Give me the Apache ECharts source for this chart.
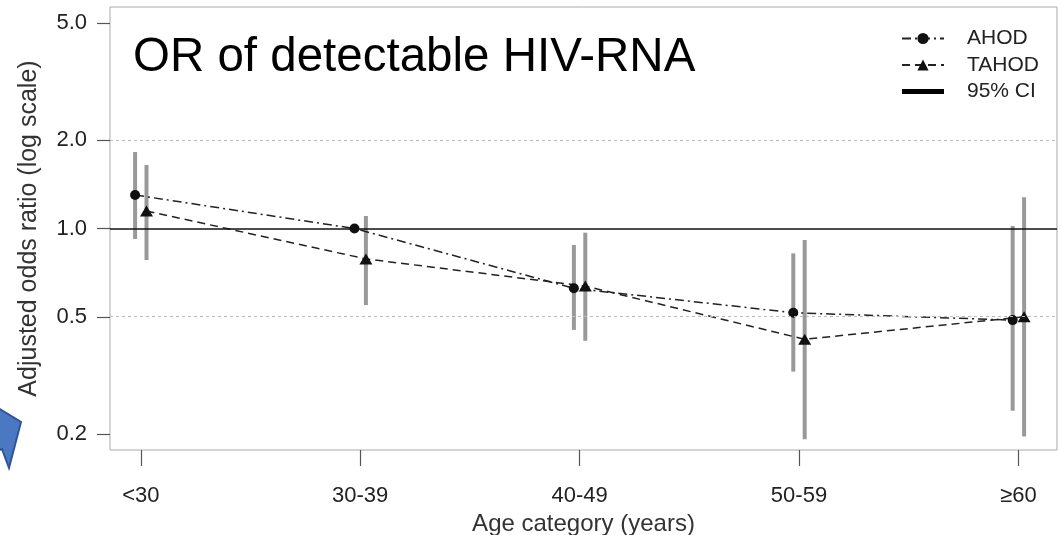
<!DOCTYPE html>
<html>
<head>
<meta charset="utf-8">
<script src="https://cdn.jsdelivr.net/npm/echarts@6/dist/echarts.min.js"></script>
<style>
  html, body { margin: 0; padding: 0; background: #fff; }
  #chart { width: 1060px; height: 535px; }
</style>
</head>
<body>
<div id="chart"></div>
<script>
// age groups on the x axis
const ageGroups = ['<30', '30-39', '40-49', '50-59', '≥60'];
// odds ratios with 95% CI (30-39 is the AHOD reference group)
const ahodOR = [1.30, 1.00, 0.626, 0.517, 0.488];
const ahodLower = [0.921, null, 0.452, 0.326, 0.240];
const ahodUpper = [1.82, null, 0.879, 0.823, 1.02];
const tahodOR = [1.147, 0.788, 0.637, 0.42, 0.501];
const tahodLower = [0.781, 0.549, 0.415, 0.192, 0.196];
const tahodUpper = [1.644, 1.103, 0.968, 0.914, 1.277];
const yTicks = [0.2, 0.5, 1.0, 2.0, 5.0];
const gridLines = [0.5, 2.0];

const jitter = 0.026; // cohorts are drawn a little apart
const font = 'Liberation Sans, Arial, Helvetica, sans-serif';
const log = Math.log10;

let ciData = [];
ageGroups.forEach((g, i) => {
  if (ahodLower[i] != null) ciData.push([i + 1 - jitter, log(ahodLower[i]), log(ahodUpper[i])]);
  if (tahodLower[i] != null) ciData.push([i + 1 + jitter, log(tahodLower[i]), log(tahodUpper[i])]);
});

let option = {
  animation: false,
  textStyle: { fontFamily: font },
  title: {
    text: 'OR of detectable HIV-RNA',
    left: 133,
    top: 34,
    padding: 0,
    textStyle: { fontFamily: font, fontSize: 47.5, fontWeight: 'normal', color: '#000' },
  },
  legend: {
    orient: 'vertical',
    left: 901,
    top: 28,
    padding: 0,
    itemWidth: 42,
    itemHeight: 14,
    itemGap: 5.5,
    textStyle: { fontFamily: font, fontSize: 21, color: '#222', padding: [0, 0, 0, 18] },
    data: [
      'AHOD',
      'TAHOD',
      { name: '95% CI', icon: 'path://M0,0H44V5H0Z', itemStyle: { color: '#000' } },
    ],
  },
  grid: {
    left: 110,
    right: 3,
    top: 7,
    bottom: 85,
    show: true,
    borderColor: '#aaa',
    borderWidth: 1,
    containLabel: false,
    outerBoundsMode: 'none',
  },
  xAxis: {
    type: 'value',
    min: 0.8596,
    max: 5.176,
    axisLine: { show: false, onZero: false },
    splitLine: { show: false },
    axisTick: {
      show: true,
      customValues: [1, 2, 3, 4, 5],
      length: 16,
      lineStyle: { color: '#555', width: 1.2 },
    },
    axisLabel: {
      customValues: [1, 2, 3, 4, 5],
      formatter: (v) => ageGroups[Math.round(v) - 1],
      margin: 35,
      fontSize: 22,
      color: '#222',
    },
    name: 'Age category (years)',
    nameLocation: 'middle',
    nameGap: 62,
    nameTextStyle: { fontSize: 24, color: '#333' },
  },
  yAxis: {
    type: 'value',
    min: -0.7534,
    max: 0.7534,
    axisLine: { show: false, onZero: false },
    splitLine: { show: false },
    axisTick: {
      show: true,
      customValues: yTicks.map(log),
      length: 13,
      lineStyle: { color: '#555', width: 1.2 },
    },
    axisLabel: {
      customValues: yTicks.map(log),
      formatter: (v) => Math.pow(10, v).toFixed(1),
      margin: 23,
      fontSize: 22,
      color: '#222',
    },
    name: 'Adjusted odds ratio (log scale)',
    nameLocation: 'middle',
    nameGap: 68,
    nameTextStyle: { fontSize: 25, color: '#333' },
  },
  graphic: [
    {
      type: 'polygon',
      shape: { points: [[-5, 406], [21, 422], [9, 468], [2, 449], [-5, 452]] },
      style: { fill: '#4a78c2', stroke: '#2f5597', lineWidth: 2 },
    },
  ],
  series: [
    {
      name: '95% CI',
      type: 'custom',
      z: 1,
      encode: { x: 0, y: [1, 2] },
      data: ciData,
      renderItem: function (params, api) {
        const lo = api.coord([api.value(0), api.value(1)]);
        const hi = api.coord([api.value(0), api.value(2)]);
        return {
          type: 'line',
          shape: { x1: lo[0], y1: lo[1], x2: hi[0], y2: hi[1] },
          style: { stroke: '#999', lineWidth: 4 },
        };
      },
    },
    {
      name: 'AHOD',
      type: 'line',
      z: 3,
      symbol: 'circle',
      symbolSize: 10,
      itemStyle: { color: '#111' },
      lineStyle: { color: '#222', width: 1.5, type: [9, 4, 2, 4] },
      data: ahodOR.map((v, i) => [i + 1 - jitter, log(v)]),
      markLine: {
        silent: true,
        symbol: 'none',
        label: { show: false },
        data: gridLines.map((g) => ({
          yAxis: log(g),
          lineStyle: { color: '#bbb', type: [3, 3], width: 1 },
        })).concat([{ yAxis: 0, lineStyle: { color: '#111', type: 'solid', width: 1.5 } }]),
      },
    },
    {
      name: 'TAHOD',
      type: 'line',
      z: 3,
      symbol: 'triangle',
      symbolSize: [13, 11],
      itemStyle: { color: '#111' },
      lineStyle: { color: '#222', width: 1.5, type: [8, 5] },
      data: tahodOR.map((v, i) => [i + 1 + jitter, log(v)]),
    },
  ],
};

let chart = echarts.init(document.getElementById('chart'));
chart.setOption(option);
window.addEventListener('resize', () => {
  chart.resize();
});
</script>
</body>
</html>
